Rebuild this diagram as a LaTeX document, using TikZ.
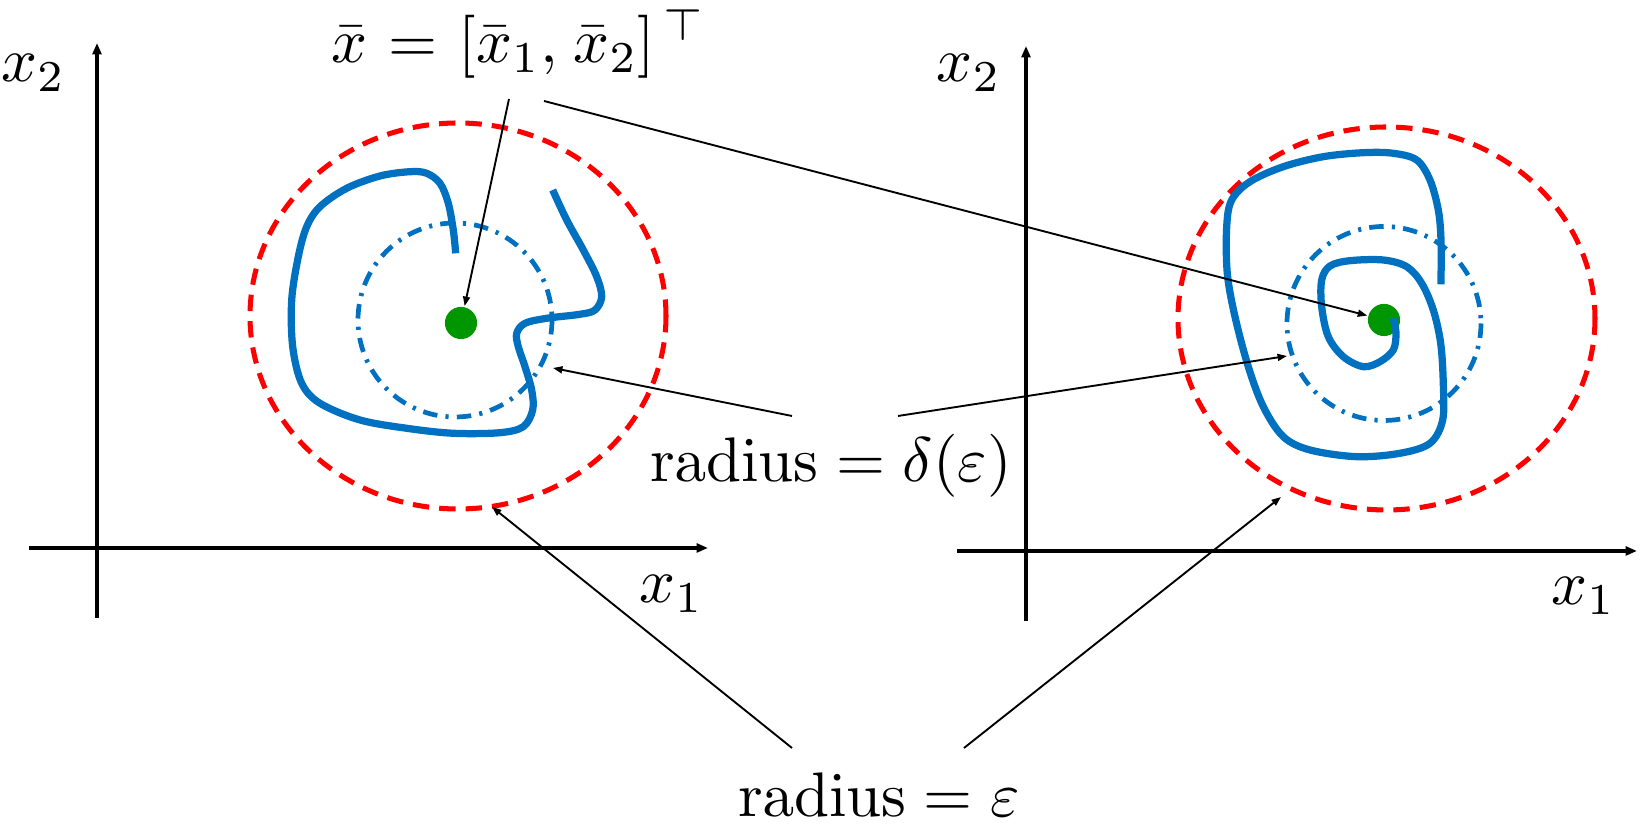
\documentclass[tikz,border=0pt]{standalone}
\usepackage{amssymb}
\usetikzlibrary{arrows.meta}

\definecolor{trajblue}{RGB}{0,112,192}
\definecolor{eqgreen}{RGB}{0,150,0}

\tikzset{
  axis/.style={line width=0.5pt,-{Triangle[length=1.8pt,width=1.4pt]}},
  pointer/.style={line width=0.3pt,-{Triangle[length=1.5pt,width=1.1pt]}},
  epsball/.style={red,line width=0.8pt,dash pattern=on 2.6pt off 1.6pt},
  deltaball/.style={trajblue,line width=0.75pt,dash pattern=on 2.3pt off 1.3pt on 0.5pt off 1.3pt},
  traj/.style={trajblue,line width=1.15pt,line join=round},
  eqpt/.style={circle,fill=eqgreen,inner sep=0pt,minimum size=5.1pt},
  lab/.style={inner sep=0pt,anchor=base}
}

\begin{document}
\begin{tikzpicture}[x=0.1587pt,y=-0.1587pt]
  \useasboundingbox (0,0) rectangle (1640,831);

  % axes
  \draw[axis] (97,618) -- (97,43);
  \draw[axis] (29,548) -- (708,548);
  \draw[axis] (1026,621) -- (1026,46);
  \draw[axis] (957,551) -- (1637,551);
  \node[lab] (xtwoL) at (33.5,82) {$x_2$};
  \node[lab] (xoneL) at (671.5,603) {$x_1$};
  \node[lab] (xtwoR) at (969,82) {$x_2$};
  \node[lab] (xoneR) at (1583.5,605) {$x_1$};

  % balls
  \draw[epsball] (458,316) ellipse [x radius=208, y radius=193];
  \draw[epsball] (1386.5,318.5) ellipse [x radius=208.5, y radius=191.5];
  \draw[deltaball] (455,320) circle [radius=97];
  \draw[deltaball] (1384,323.5) circle [radius=97];
  \node[eqpt] (eqL) at (461,323) {};
  \node[eqpt] (eqR) at (1384,320) {};

  % trajectories
  \draw[traj] plot[smooth,tension=0.55] coordinates {
    (455.7,253.3) (453.3,230) (448.3,203.3) (440,183.3) (426.7,173.3)
    (410,171.7) (380,176) (346.7,188.3) (320,206.7) (306.7,226.7)
    (298.3,256.7) (291.7,300) (292.7,346.7) (301.7,383.3) (320,403.3)
    (360,420) (406.7,428.3) (453.3,433.3) (500,432.7) (523.3,426.7)
    (532.7,410) (531.7,390) (525,366.7) (518.3,346.7) (516.7,333.3)
    (525,323.3) (546.7,318.3) (580,314.3) (595,310) (601.7,296.7)
    (596.7,276.7) (583.3,250) (566.7,220) (552.7,190)};
  \draw[traj] plot[smooth,tension=0.55] coordinates {
    (1441,284.3) (1441,240) (1438.3,210) (1430,180) (1416.7,160)
    (1393.3,153.3) (1363.3,152.7) (1323.3,156.7) (1283.3,166.7) (1250,181.7)
    (1231.7,200) (1226.7,226.7) (1227.3,273.3) (1235,316.7) (1248.3,366.7)
    (1263.3,406.7) (1283.3,436.7) (1310,450) (1356.7,456.7) (1400,453.3)
    (1430,443.3) (1442.7,420) (1443.3,383.3) (1440.7,343.3) (1433.3,310)
    (1421.7,283.3) (1406.7,266.7) (1383.3,260) (1350,260.7) (1330,266)
    (1321.7,280) (1321.7,306.7) (1328.3,336.7) (1343.3,356.7) (1363.3,366.7)
    (1380,361.7) (1393.3,350) (1396,333.3) (1393.3,318.3)};

  % labels and pointers
  \node[lab] (xbar) at (519,63)
    {$\bar{x}\mskip1mu=\mskip1mu[\bar{x}_1,\mskip1.5mu\bar{x}_2]^{\mskip3mu\top}$};
  \node[lab] (deltalab) at (831,482) {$\mathrm{radius}=\delta(\varepsilon)$};
  \node[lab] (epslab) at (879,817) {$\mathrm{radius}=\varepsilon$};

  \coordinate (xbarA) at (509,99);
  \coordinate (xbarB) at (544,101);
  \coordinate (deltaA) at (792,416);
  \coordinate (deltaB) at (898,416);
  \coordinate (epsA) at (792,748);
  \coordinate (epsB) at (964,748);
  \coordinate (deltaL) at (553,368);
  \coordinate (deltaR) at (1287,356);
  \coordinate (epsL) at (492,507);
  \coordinate (epsR) at (1281,497);

  \draw[pointer] (xbarA) -- (eqL);
  \draw[pointer] (xbarB) -- (eqR);
  \draw[pointer] (deltaA) -- (deltaL);
  \draw[pointer] (deltaB) -- (deltaR);
  \draw[pointer] (epsA) -- (epsL);
  \draw[pointer] (epsB) -- (epsR);
\end{tikzpicture}
\end{document}
